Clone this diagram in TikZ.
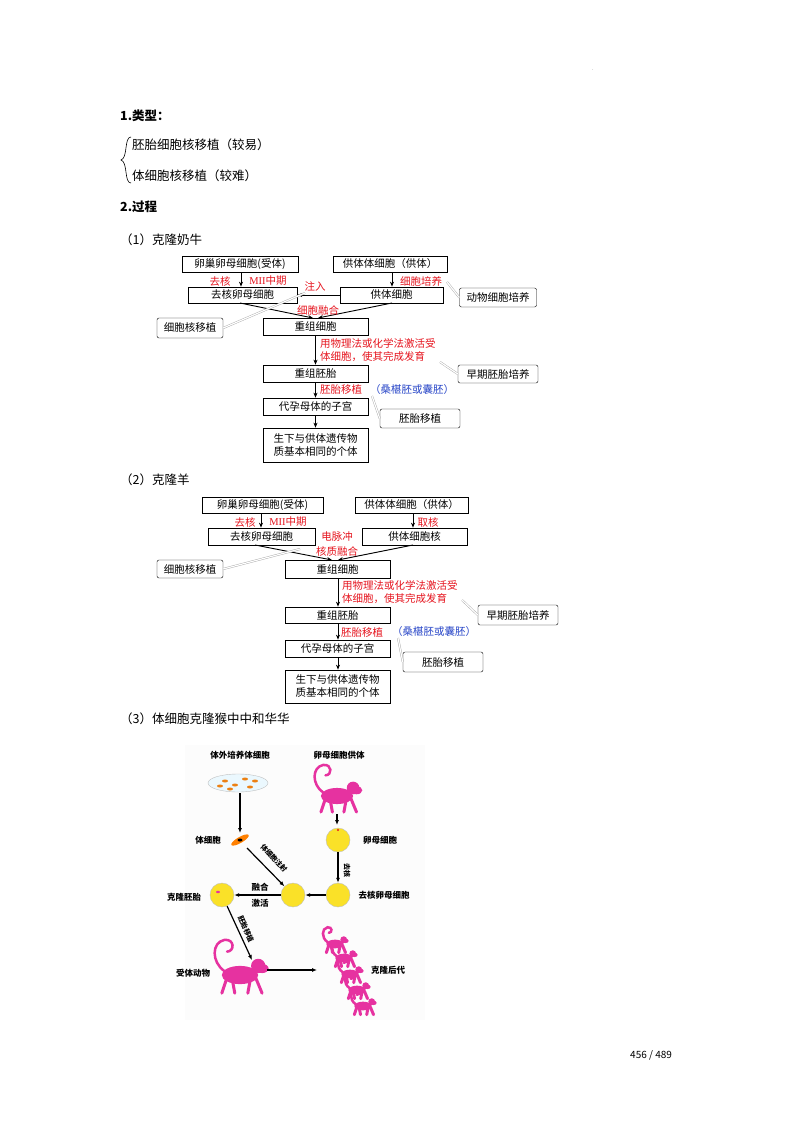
\documentclass[tikz,border=0pt]{standalone}
\usepackage{fontspec}
\setmainfont{Noto Sans CJK SC}
\newfontfamily\latin{Liberation Serif}
\usetikzlibrary{arrows.meta}
\definecolor{mred}{RGB}{230,20,30}
\definecolor{mblue}{RGB}{40,70,200}
\definecolor{mpink}{RGB}{230,50,160}
\definecolor{cellY}{RGB}{250,225,40}
\tikzset{
 box/.style={draw,line width=0.7pt,inner sep=0pt,font=\fontsize{10.5}{13}\selectfont,align=center},
 rbox/.style={draw,rounded corners=2pt,inner sep=0pt,font=\fontsize{10.5}{12}\selectfont},
 arr/.style={-{Stealth[length=5pt,width=4pt]},line width=0.9pt},
 red/.style={text=mred,font=\fontsize{10.5}{13}\selectfont,inner sep=0pt},
 blue/.style={text=mblue,font=\fontsize{10.5}{13}\selectfont,inner sep=0pt},
 callout/.style={draw=gray!70,double=white,double distance=1.2pt,line width=0.4pt},
 body/.style={font=\fontsize{12.5}{15}\selectfont,inner sep=0pt,anchor=west},
 lab/.style={font=\bfseries\fontsize{8.5}{10}\selectfont,inner sep=0pt},
 slab/.style={font=\bfseries\fontsize{7}{8}\selectfont,inner sep=0pt},
 bigarr/.style={-{Latex[length=5pt,width=4pt]},line width=1.2pt},
 cell/.style={circle,draw=gray!50,fill=cellY,minimum size=24pt,inner sep=0pt},
 monkey/.pic={
  \fill[mpink] (0,0) ellipse (14 and 7);
  \fill[mpink] (14,-7) circle (5.5);
  \fill[mpink] (17,-5) ellipse (5 and 3.5);
  \draw[mpink,line width=3pt,line cap=round] (-10,2)--(-14,14) (-6,3)--(-4,14) (8,3)--(6,14) (12,2)--(17,14);
  \draw[mpink,line width=2.5pt,line cap=round] (-12,-3) .. controls (-22,-10) and (-22,-25) .. (-12,-27) .. controls (-4,-28) and (-4,-18) .. (-10,-18);
 }
}
\begin{document}
\begin{tikzpicture}[x=1pt,y=-1pt]
\useasboundingbox[fill=white] (0,0) rectangle (800,1132);
\node[font=\fontsize{4}{4}\selectfont] (dot) at (593,70) {.};
\node[body,font=\bfseries\fontsize{12.5}{15}\selectfont] (t1) at (120,116) {1.类型：};
\draw[line width=0.6pt] (131,137) .. controls (124,137) and (128,158) .. (121,160) .. controls (128,162) and (124,183) .. (131,183);
\node[body] (t1a) at (132,145) {胚胎细胞核移植（较易）};
\node[body] (t1b) at (132,176) {体细胞核移植（较难）};
\node[body,font=\bfseries\fontsize{12.5}{15}\selectfont] (t2) at (120,207) {2.过程};
\node[body] (s1) at (120,240) {（1）克隆奶牛};
\node[body] (s2) at (120,480) {（2）克隆羊};
\node[body] (s3) at (120,719) {（3）体细胞克隆猴中中和华华};
\node[body,font=\fontsize{10}{12}\selectfont] (pg) at (630,1055) {456 / 489};

% ---------- flowchart 1
\node[box,minimum width=116pt,minimum height=16pt] (a1) at (240,264) {卵巢卵母细胞(受体)};
\node[box,minimum width=114pt,minimum height=16pt] (b1) at (390,264) {供体体细胞（供体）};
\node[box,minimum width=109pt,minimum height=16pt] (c1) at (242.5,295) {去核卵母细胞};
\node[box,minimum width=103pt,minimum height=16pt] (d1) at (391.5,295) {供体细胞};
\node[rbox,minimum width=77pt,minimum height=19pt] (k1) at (498,297.5) {动物细胞培养};
\node[rbox,minimum width=66pt,minimum height=20pt] (n1) at (190,328) {细胞核移植};
\node[box,minimum width=105pt,minimum height=17pt] (e1) at (315.5,326.5) {重组细胞};
\node[box,minimum width=105pt,minimum height=17pt] (f1) at (315.5,373.5) {重组胚胎};
\node[rbox,minimum width=80pt,minimum height=18pt] (z1) at (498,374) {早期胚胎培养};
\node[box,minimum width=105pt,minimum height=17pt] (g1) at (315.5,406.5) {代孕母体的子宫};
\node[rbox,minimum width=80pt,minimum height=19pt] (p1) at (420,418.5) {胚胎移植};
\node[box,minimum width=105pt,minimum height=34pt] (h1) at (315.5,445) {生下与供体遗传物\\质基本相同的个体};
\draw[arr] (a1.south -| 241,0) -- (c1.north -| 241,0);
\draw[arr] (b1.south -| 392,0) -- (d1.north -| 392,0);
\node[red] (l1a) at (220,281) {去核};
\node[red] (l1b) at (268,281) {{\latin MII}中期};
\node[red] (l1c) at (421,281) {细胞培养};
\draw[arr] (d1.west) -- (c1.east);
\node[red] (l1d) at (315,286.5) {注入};
\draw[arr] (240,303) -- (313,318);
\draw[arr] (392,303) -- (318,318);
\node[red] (l1e) at (318,311) {细胞融合};
\draw[arr] (e1.south) -- (f1.north);
\node[red,anchor=west,align=left] (l1f) at (320,350) {用物理法或化学法激活受\\体细胞，使其完成发育};
\draw[arr] (f1.south) -- (g1.north);
\node[red,anchor=west] (l1g) at (320,390) {胚胎移植};
\node[blue,anchor=west] (l1h) at (370,390) {（桑椹胚或囊胚）};
\draw[arr] (g1.south) -- (h1.north);
\draw[callout] (k1.west) -- (447,282);
\draw[callout] (n1.east) -- (305,293);
\draw[callout] (z1.west) -- (440,362);
\draw[callout] (p1.west) -- (372,396);

% ---------- flowchart 2
\node[box,minimum width=121pt,minimum height=16pt] (a2) at (262.5,505) {卵巢卵母细胞(受体)};
\node[box,minimum width=113pt,minimum height=16pt] (b2) at (411.5,505) {供体体细胞（供体）};
\node[box,minimum width=107pt,minimum height=17pt] (c2) at (261.5,536.5) {去核卵母细胞};
\node[box,minimum width=105pt,minimum height=17pt] (d2) at (414.5,536.5) {供体细胞核};
\node[rbox,minimum width=66pt,minimum height=18pt] (n2) at (190,569) {细胞核移植};
\node[box,minimum width=105pt,minimum height=18pt] (e2) at (337.5,569) {重组细胞};
\node[box,minimum width=105pt,minimum height=16pt] (f2) at (337.5,615) {重组胚胎};
\node[rbox,minimum width=80pt,minimum height=20pt] (z2) at (518,615) {早期胚胎培养};
\node[box,minimum width=105pt,minimum height=17pt] (g2) at (337.5,648.5) {代孕母体的子宫};
\node[rbox,minimum width=80pt,minimum height=20pt] (p2) at (443,662) {胚胎移植};
\node[box,minimum width=105pt,minimum height=33pt] (h2) at (337.5,686.5) {生下与供体遗传物\\质基本相同的个体};
\draw[arr] (a2.south -| 261,0) -- (c2.north -| 261,0);
\draw[arr] (b2.south -| 413,0) -- (d2.north -| 413,0);
\node[red] (l2a) at (245,522) {去核};
\node[red] (l2b) at (288,522) {{\latin MII}中期};
\node[red] (l2c) at (428,522) {取核};
\draw[arr] (255,545) -- (332,560);
\draw[arr] (413,545) -- (338,560);
\node[red] (l2d) at (337,537) {电脉冲};
\node[red] (l2e) at (337,551) {核质融合};
\draw[arr] (e2.south -| 338,0) -- (f2.north -| 338,0);
\node[red,anchor=west,align=left] (l2f) at (342,592) {用物理法或化学法激活受\\体细胞，使其完成发育};
\draw[arr] (f2.south -| 338,0) -- (g2.north -| 338,0);
\node[red,anchor=west] (l2g) at (341,632) {胚胎移植};
\node[blue,anchor=west] (l2h) at (392,632) {（桑椹胚或囊胚）};
\draw[arr] (g2.south -| 338,0) -- (h2.north -| 338,0);
\draw[callout] (n2.east) -- (300,549);
\draw[callout] (z2.west) -- (462,600);
\draw[callout] (p2.west) -- (398,638);

% ---------- figure 3
\fill[gray!2] (185,745) rectangle (425,1020);
\node[lab] (m1) at (240,755) {体外培养体细胞};
\node[lab] (m2) at (339,755) {卵母细胞供体};
\fill[cyan!8,draw=gray!50] (238,783) ellipse (30 and 9);
\foreach \p in {(225,781),(235,785),(245,779),(250,787),(230,789),(220,786),(255,781)}
  \fill[orange!70!brown] \p ellipse (3 and 1.5);
\coordinate (dish) at (240,793);
\pic[scale=1.15] at (337,796) {monkey};
\coordinate (mk1) at (337,814);
\node[lab] (m3) at (208,840) {体细胞};
\fill[orange,rotate around={30:(240,840)}] (240,840) ellipse (10 and 3);
\fill[black] (240,840) ellipse (2.5 and 1.5);
\coordinate (sc) at (240,846);
\node[cell] (oo) at (338,840) {};
\fill[mred] (338,830) circle (1.2);
\node[lab] (m4) at (380,840) {卵母细胞};
\node[cell] (eo) at (338,895) {};
\node[lab] (m5) at (384,895) {去核卵母细胞};
\node[cell] (mc) at (293,895) {};
\node[cell] (ce) at (222,895) {};
\fill[mpink] (218,892) ellipse (2 and 1.2);
\node[lab] (m6) at (184,897) {克隆胚胎};
\draw[bigarr] (dish) -- (240,833);
\draw[bigarr] (mk1) -- (337,825);
\draw[bigarr] (oo) -- (eo);
\node[slab,rotate=-90] (m7) at (347,870) {去核};
\draw[bigarr] (eo) -- (mc);
\draw[bigarr] (mc) -- (ce);
\node[lab] (m8) at (260,887) {融合};
\node[lab] (m9) at (260,903) {激活};
\draw[bigarr] (247,848) -- (mc);
\node[slab,rotate=-47] (m10) at (274,858) {体细胞注射};
\pic[scale=1.3] at (240,975) {monkey};
\node[lab] (m11) at (193,973) {受体动物};
\draw[bigarr] (ce) -- (252,960);
\node[slab,rotate=-66] (m12) at (246,929) {胚胎移植};
\coordinate (rec) at (267,970);
\draw[bigarr] (rec) -- (317,970);
\foreach \x/\y in {335/944,344/958,350/974,357/990,363/1006}
  \pic[scale=0.62] at (\x,\y) {monkey};
\node[lab] (m13) at (388,970) {克隆后代};
\end{tikzpicture}
\end{document}
